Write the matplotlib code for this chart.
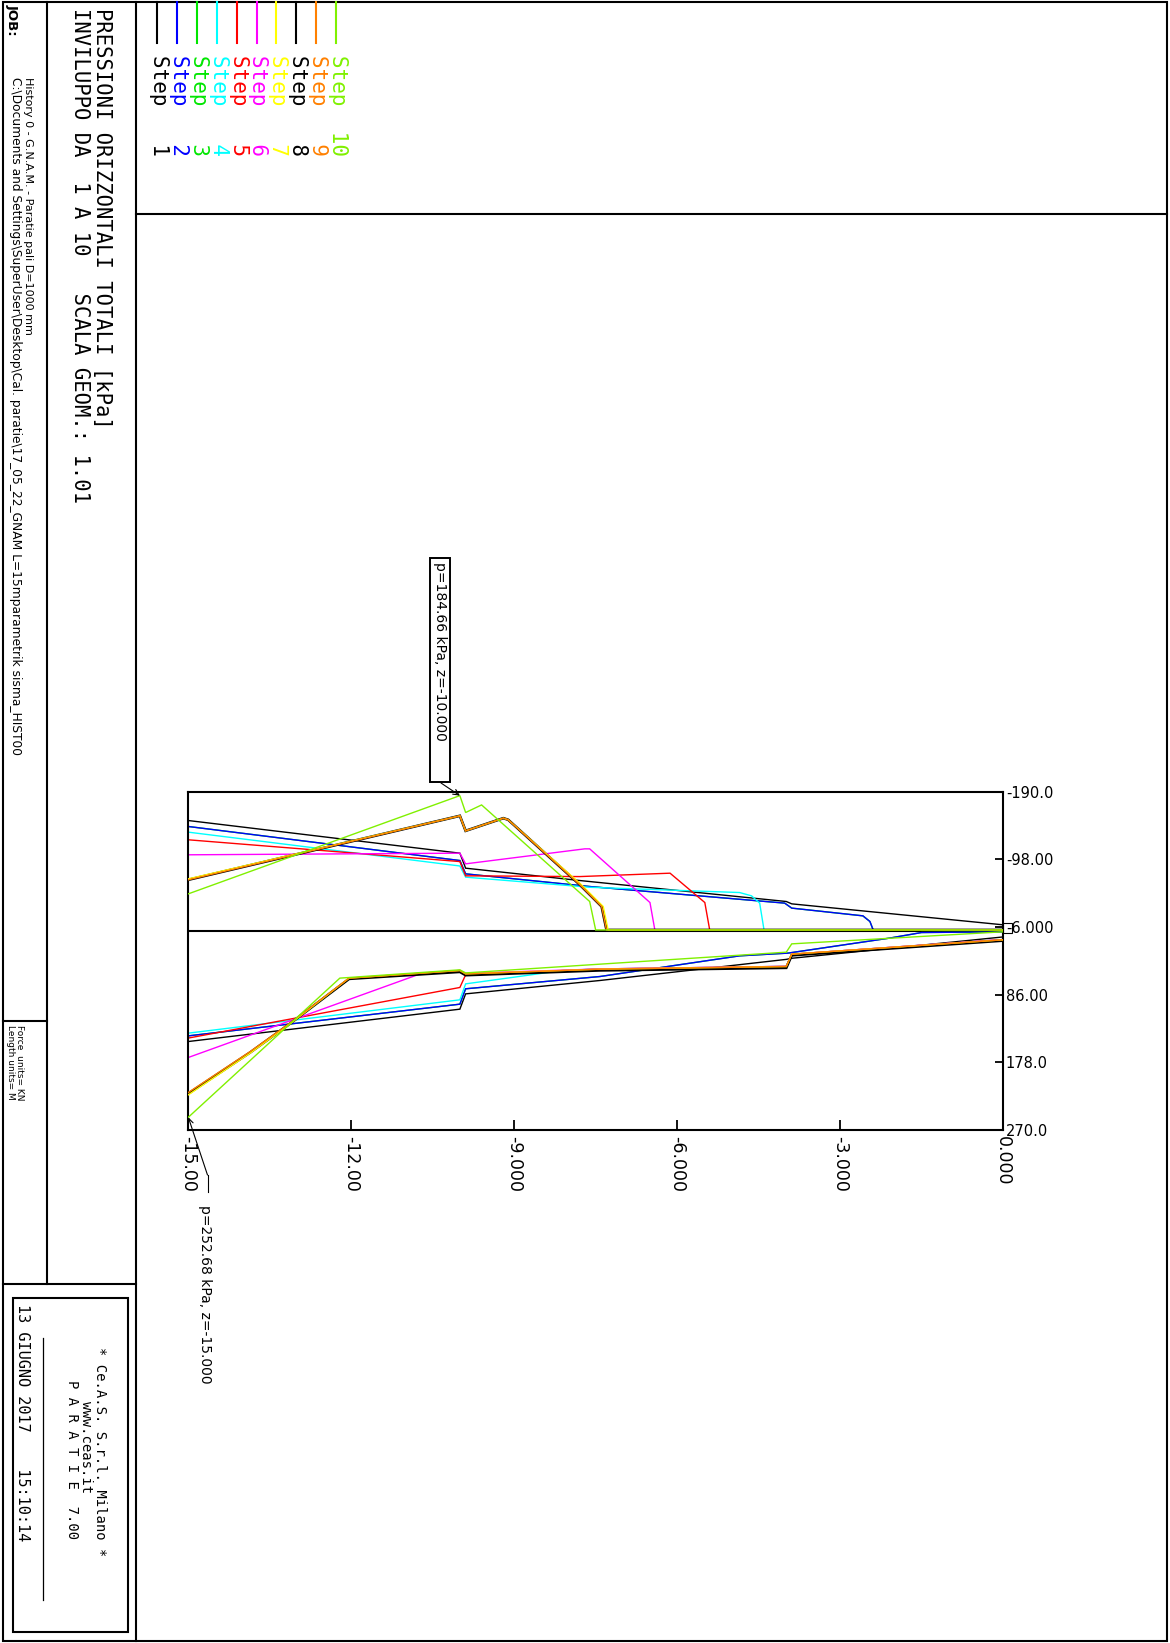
import matplotlib
matplotlib.use("Agg")
import matplotlib.pyplot as plt
from matplotlib.patches import Rectangle
from matplotlib.ticker import FixedLocator, FixedFormatter

W, H, DPI = 1170, 1643, 100

# ---------------- data ----------------
steps = [1, 2, 3, 4, 5, 6, 7, 8, 9, 10]
step_colors = ['#000000', '#0000ff', '#00e600', '#00ffff', '#ff0000',
               '#ff00ff', '#ffff00', '#000000', '#ff8000', '#80f000']

# upper side (pressures shown negative), lower side (positive)
step1_z_up = [-15, -10, -9.894, -7.79, -3.99, -3.89, 0]
step1_p_up = [-150.8, -106.4, -86.0, -69.2, -40.7, -37.5, -9.0]
step1_z_dn = [-15, -10, -9.894, -7.42, -3.99, -3.89, 0]
step1_p_dn = [149.7, 105.7, 84.9, 66.7, 38.0, 36.5, 7.5]

step2_z_up = [-15, -10, -9.894, -7.6, -4.02, -3.89, -2.58, -2.45, -2.39, 0]
step2_p_up = [-142.7, -96.4, -78.3, -61.0, -38.5, -31.7, -21.2, -13.5, -2.0, -2.0]
step2_z_dn = [-15, -10, -9.894, -7.42, -4.85, -3.96, -2.09, -1.5, 0]
step2_p_dn = [142.0, 98.9, 78.0, 61.3, 33.2, 29.5, 9.1, 1.5, 0.5]

step3_z_up = [-15, -10, -9.894, -7.6, -4.02, -3.89, -2.58, -2.45, -2.39, 0]
step3_p_up = [-142.7, -96.4, -78.3, -61.0, -38.5, -31.7, -21.2, -13.5, -2.0, -2.0]
step3_z_dn = [-15, -10, -9.894, -7.42, -4.85, -3.96, -2.09, -1.5, 0]
step3_p_dn = [142.0, 98.9, 78.0, 61.3, 33.2, 29.5, 9.1, 1.5, 0.5]

step4_z_up = [-15, -10, -9.894, -7.6, -4.85, -4.63, -4.48, -4.40, 0]
step4_p_up = [-135.0, -89.0, -73.8, -60.0, -52.9, -48.4, -38.5, -2.0, -2.0]
step4_z_dn = [-15, -10, -9.894, -8.1, -7.42, -3.99, -3.89, 0]
step4_p_dn = [138.3, 93.0, 71.3, 53.0, 51.0, 47.5, 31.0, 11.0]

step5_z_up = [-15, -10, -9.894, -7.79, -6.13, -5.49, -5.40, 0]
step5_p_up = [-124.6, -95.0, -75.6, -74.6, -79.2, -39.3, -2.0, -2.0]
step5_z_dn = [-15, -10, -9.894, -7.42, -3.99, -3.89, 0]
step5_p_dn = [145.0, 76.2, 59.0, 51.0, 47.5, 31.0, 11.0]

step6_z_up = [-15, -10, -9.894, -7.70, -7.61, -6.50, -6.41, 0]
step6_p_up = [-104.2, -106.4, -91.9, -112.3, -112.3, -39.3, -2.0, -2.0]
step6_z_dn = [-15, -10.73, -10, -9.894, -7.42, -3.99, -3.89, 0]
step6_p_dn = [171.4, 57.7, 53.0, 57.0, 51.0, 47.5, 31.0, 11.0]

step7_z_up = [-15, -10, -9.894, -9.20, -9.11, -7.76, -7.36, -7.27, 0]
step7_p_up = [-71.5, -157.2, -136.8, -154.0, -151.8, -63.4, -33.9, -2.0, -2.0]
step7_z_dn = [-15, -13.86, -13.13, -12.04, -10, -9.894, -7.42, -3.99, -3.89, 0]
step7_p_dn = [222.2, 165.5, 126.0, 63.5, 53.1, 57.7, 51.3, 47.7, 30.9, 11.4]

step8_z_up = [-15, -10, -9.894, -9.20, -9.11, -7.79, -7.39, -7.30, 0]
step8_p_up = [-70.2, -157.2, -136.8, -154.0, -151.8, -63.4, -33.9, -2.0, -2.0]
step8_z_dn = [-15, -13.86, -13.13, -12.04, -10, -9.894, -7.42, -3.99, -3.89, 0]
step8_p_dn = [220.5, 164.5, 125.5, 64.5, 55.0, 59.5, 53.0, 49.5, 32.5, 12.5]

step9_z_up = [-15, -10, -9.894, -9.20, -9.11, -7.79, -7.39, -7.30, 0]
step9_p_up = [-70.2, -157.2, -136.8, -154.0, -151.8, -63.4, -33.9, -2.0, -2.0]
step9_z_dn = [-15, -13.86, -13.13, -12.04, -10, -9.894, -7.42, -3.99, -3.89, 0]
step9_p_dn = [219.0, 163.3, 124.7, 63.5, 53.1, 57.7, 51.3, 47.7, 30.9, 11.4]

step10_z_up = [-15, -10, -9.894, -9.60, -7.61, -7.50, 0]
step10_p_up = [-51.1, -184.66, -161.7, -172.0, -40.7, -2.0, -2.0]
step10_z_dn = [-15, -12.21, -10, -9.894, -7.42, -3.99, -3.89, 0]
step10_p_dn = [252.68, 63.5, 52.2, 56.4, 44.5, 28.2, 16.9, 0.5]

z_ticks = [-15, -12, -9, -6, -3, 0]
z_tick_labels = ['-15.00', '-12.00', '-9.000', '-6.000', '-3.000', '0.000']
p_ticks = [-190, -98, -6, 86, 178, 270]
p_tick_labels = ['-190.0', '-98.00', '-6.000', '86.00', '178.0', '270.0']

title_line1 = 'PRESSIONI ORIZZONTALI TOTALI [kPa]'
title_line2 = 'INVILUPPO DA  1 A 10   SCALA GEOM.: 1.01'
job_label = 'JOB:'
history_line = 'History 0 - G.N.A.M. - Paratie pali D=1000 mm'
path_line = r'C:\Documents and Settings\SuperUser\Desktop\Cal. paratie\17_05_22_GNAM L=15mparametrik sisma_HIST00'
force_units = 'Force  units= KN'
length_units = 'Length units= M'
logo_lines = ['* Ce.A.S. S.r.l. Milano *', 'www.ceas.it', 'P A R A T I E  7.00']
date_line = '13 GIUGNO 2017    15:10:14'

series = {
    1: (step1_z_up, step1_p_up, step1_z_dn, step1_p_dn),
    2: (step2_z_up, step2_p_up, step2_z_dn, step2_p_dn),
    3: (step3_z_up, step3_p_up, step3_z_dn, step3_p_dn),
    4: (step4_z_up, step4_p_up, step4_z_dn, step4_p_dn),
    5: (step5_z_up, step5_p_up, step5_z_dn, step5_p_dn),
    6: (step6_z_up, step6_p_up, step6_z_dn, step6_p_dn),
    7: (step7_z_up, step7_p_up, step7_z_dn, step7_p_dn),
    8: (step8_z_up, step8_p_up, step8_z_dn, step8_p_dn),
    9: (step9_z_up, step9_p_up, step9_z_dn, step9_p_dn),
    10: (step10_z_up, step10_p_up, step10_z_dn, step10_p_dn),
}

# ---------------- figure ----------------
plt.rcParams['font.family'] = ['DejaVu Sans']
fig = plt.figure(figsize=(W / DPI, H / DPI), dpi=DPI)

def px_rect(x0, y0, x1, y1):
    return [x0 / W, 1 - y1 / H, (x1 - x0) / W, (y1 - y0) / H]

ax = fig.add_axes(px_rect(188.3, 791.7, 1003, 1130))
ax.set_xlim(-15, 0)
ax.set_ylim(270, -190)

draw_order = [1, 3, 2, 4, 5, 6, 8, 7, 9, 10]
widths = {8: 1.9}
for rank, n in enumerate(draw_order):
    zu, pu, zd, pd = series[n]
    c = step_colors[n - 1]
    lw = widths.get(n, 1.0)
    ax.plot(zu, pu, color=c, lw=lw, zorder=2 + rank * 0.1, solid_joinstyle='miter')
    ax.plot(zd, pd, color=c, lw=lw, zorder=2 + rank * 0.1, solid_joinstyle='miter')

ax.axhline(0, color='black', lw=1.5, zorder=1.5)

for s in ax.spines.values():
    s.set_linewidth(1.5)

ax.xaxis.set_major_locator(FixedLocator(z_ticks))
ax.xaxis.set_major_formatter(FixedFormatter(z_tick_labels))
ax.yaxis.tick_right()
ax.yaxis.set_major_locator(FixedLocator(p_ticks))
ax.yaxis.set_major_formatter(FixedFormatter(p_tick_labels))
ax.tick_params(axis='x', direction='in', length=7, width=1.3, pad=4,
               labelsize=12.5, labelrotation=270)
ax.tick_params(axis='y', direction='in', length=6, width=1.3, pad=2,
               labelsize=10.5)

# ---------------- overlay (frame, title block, legend) ----------------
ov = fig.add_axes([0, 0, 1, 1], zorder=5)
ov.set_xlim(0, W)
ov.set_ylim(H, 0)
ov.axis('off')
ov.patch.set_alpha(0)

K = 'black'
ov.add_patch(Rectangle((3, 2), 1164, 1639, fill=False, lw=1.5, ec=K))
ov.plot([136, 136], [2, 1641], color=K, lw=1.5)
ov.plot([47, 47], [2, 1284], color=K, lw=1.5)
ov.plot([3, 47], [1021, 1021], color=K, lw=1.5)
ov.plot([3, 136], [1284, 1284], color=K, lw=1.5)
ov.plot([136, 1167], [214, 214], color=K, lw=1.5)
ov.add_patch(Rectangle((13, 1298), 115, 334, fill=False, lw=1.5, ec=K))
ov.plot([43, 43], [1338, 1600], color=K, lw=0.9)

# small wall symbol at the right end of the zero line
ov.add_patch(Rectangle((1003, 923), 9, 10, fill=False, lw=0.8, ec=K))

# title block texts
ov.text(102, 8, title_line1, rotation=270, ha='center', va='top',
        family='DejaVu Sans Mono', fontsize=14.8)
ov.text(80, 8, title_line2, rotation=270, ha='center', va='top',
        family='DejaVu Sans Mono', fontsize=14.8)
ov.text(12, 4, job_label, rotation=270, ha='center', va='top',
        fontsize=9.5, fontweight='bold')
ov.text(28, 77, history_line, rotation=270, ha='center', va='top', fontsize=8)
ov.text(15, 77, path_line, rotation=270, ha='center', va='top', fontsize=8.8)
ov.text(19, 1025, force_units, rotation=270, ha='center', va='top', fontsize=6.5)
ov.text(10, 1025, length_units, rotation=270, ha='center', va='top', fontsize=6.5)

logo_x = [100, 86, 71.5]
logo_y = [1452, 1447, 1460]
logo_fs = [10, 10, 10]
for txt, x, y, fs in zip(logo_lines, logo_x, logo_y, logo_fs):
    ov.text(x, y, txt, rotation=270, ha='center', va='center', fontsize=fs,
            family='DejaVu Sans Mono')
ov.text(22, 1304, date_line, rotation=270, ha='center', va='top', fontsize=11,
        family='DejaVu Sans Mono')

# legend
for i, n in enumerate(steps):
    x = 157 + i * 19.9
    c = step_colors[i]
    ov.plot([x, x], [2, 43], color=c, lw=1.5)
    ov.text(x + 2, 55, f"Step {n:>3}", rotation=270, ha='center', va='top',
            family='DejaVu Sans Mono', fontsize=15, color=c)

# annotations
z_max, p_max = step10_z_up[1], step10_p_up[1]
ov.add_patch(Rectangle((430, 558), 20, 224, fill=False, lw=1.4, ec=K))
ov.text(440, 562, f"p={abs(p_max):.2f} kPa, z={z_max:.3f}", rotation=270,
        ha='center', va='top', fontsize=10)
ax.annotate('', xy=(z_max, p_max), xycoords='data',
            xytext=(441, 783), textcoords=ov.transData,
            arrowprops=dict(arrowstyle='->', lw=0.8, color=K,
                            shrinkA=0, shrinkB=0),
            annotation_clip=False)

z_b, p_b = step10_z_dn[0], step10_p_dn[0]
ov.text(205, 1205, f"p={abs(p_b):.2f} kPa, z={z_b:.3f}", rotation=270,
        ha='center', va='top', fontsize=10)
ov.plot([207.5, 207.5], [1192, 1175], color=K, lw=0.8)
ax.annotate('', xy=(z_b, p_b), xycoords='data',
            xytext=(207.5, 1175), textcoords=ov.transData,
            arrowprops=dict(arrowstyle='->', lw=0.8, color=K,
                            shrinkA=0, shrinkB=0),
            annotation_clip=False)

fig.savefig('out.png', dpi=DPI)
